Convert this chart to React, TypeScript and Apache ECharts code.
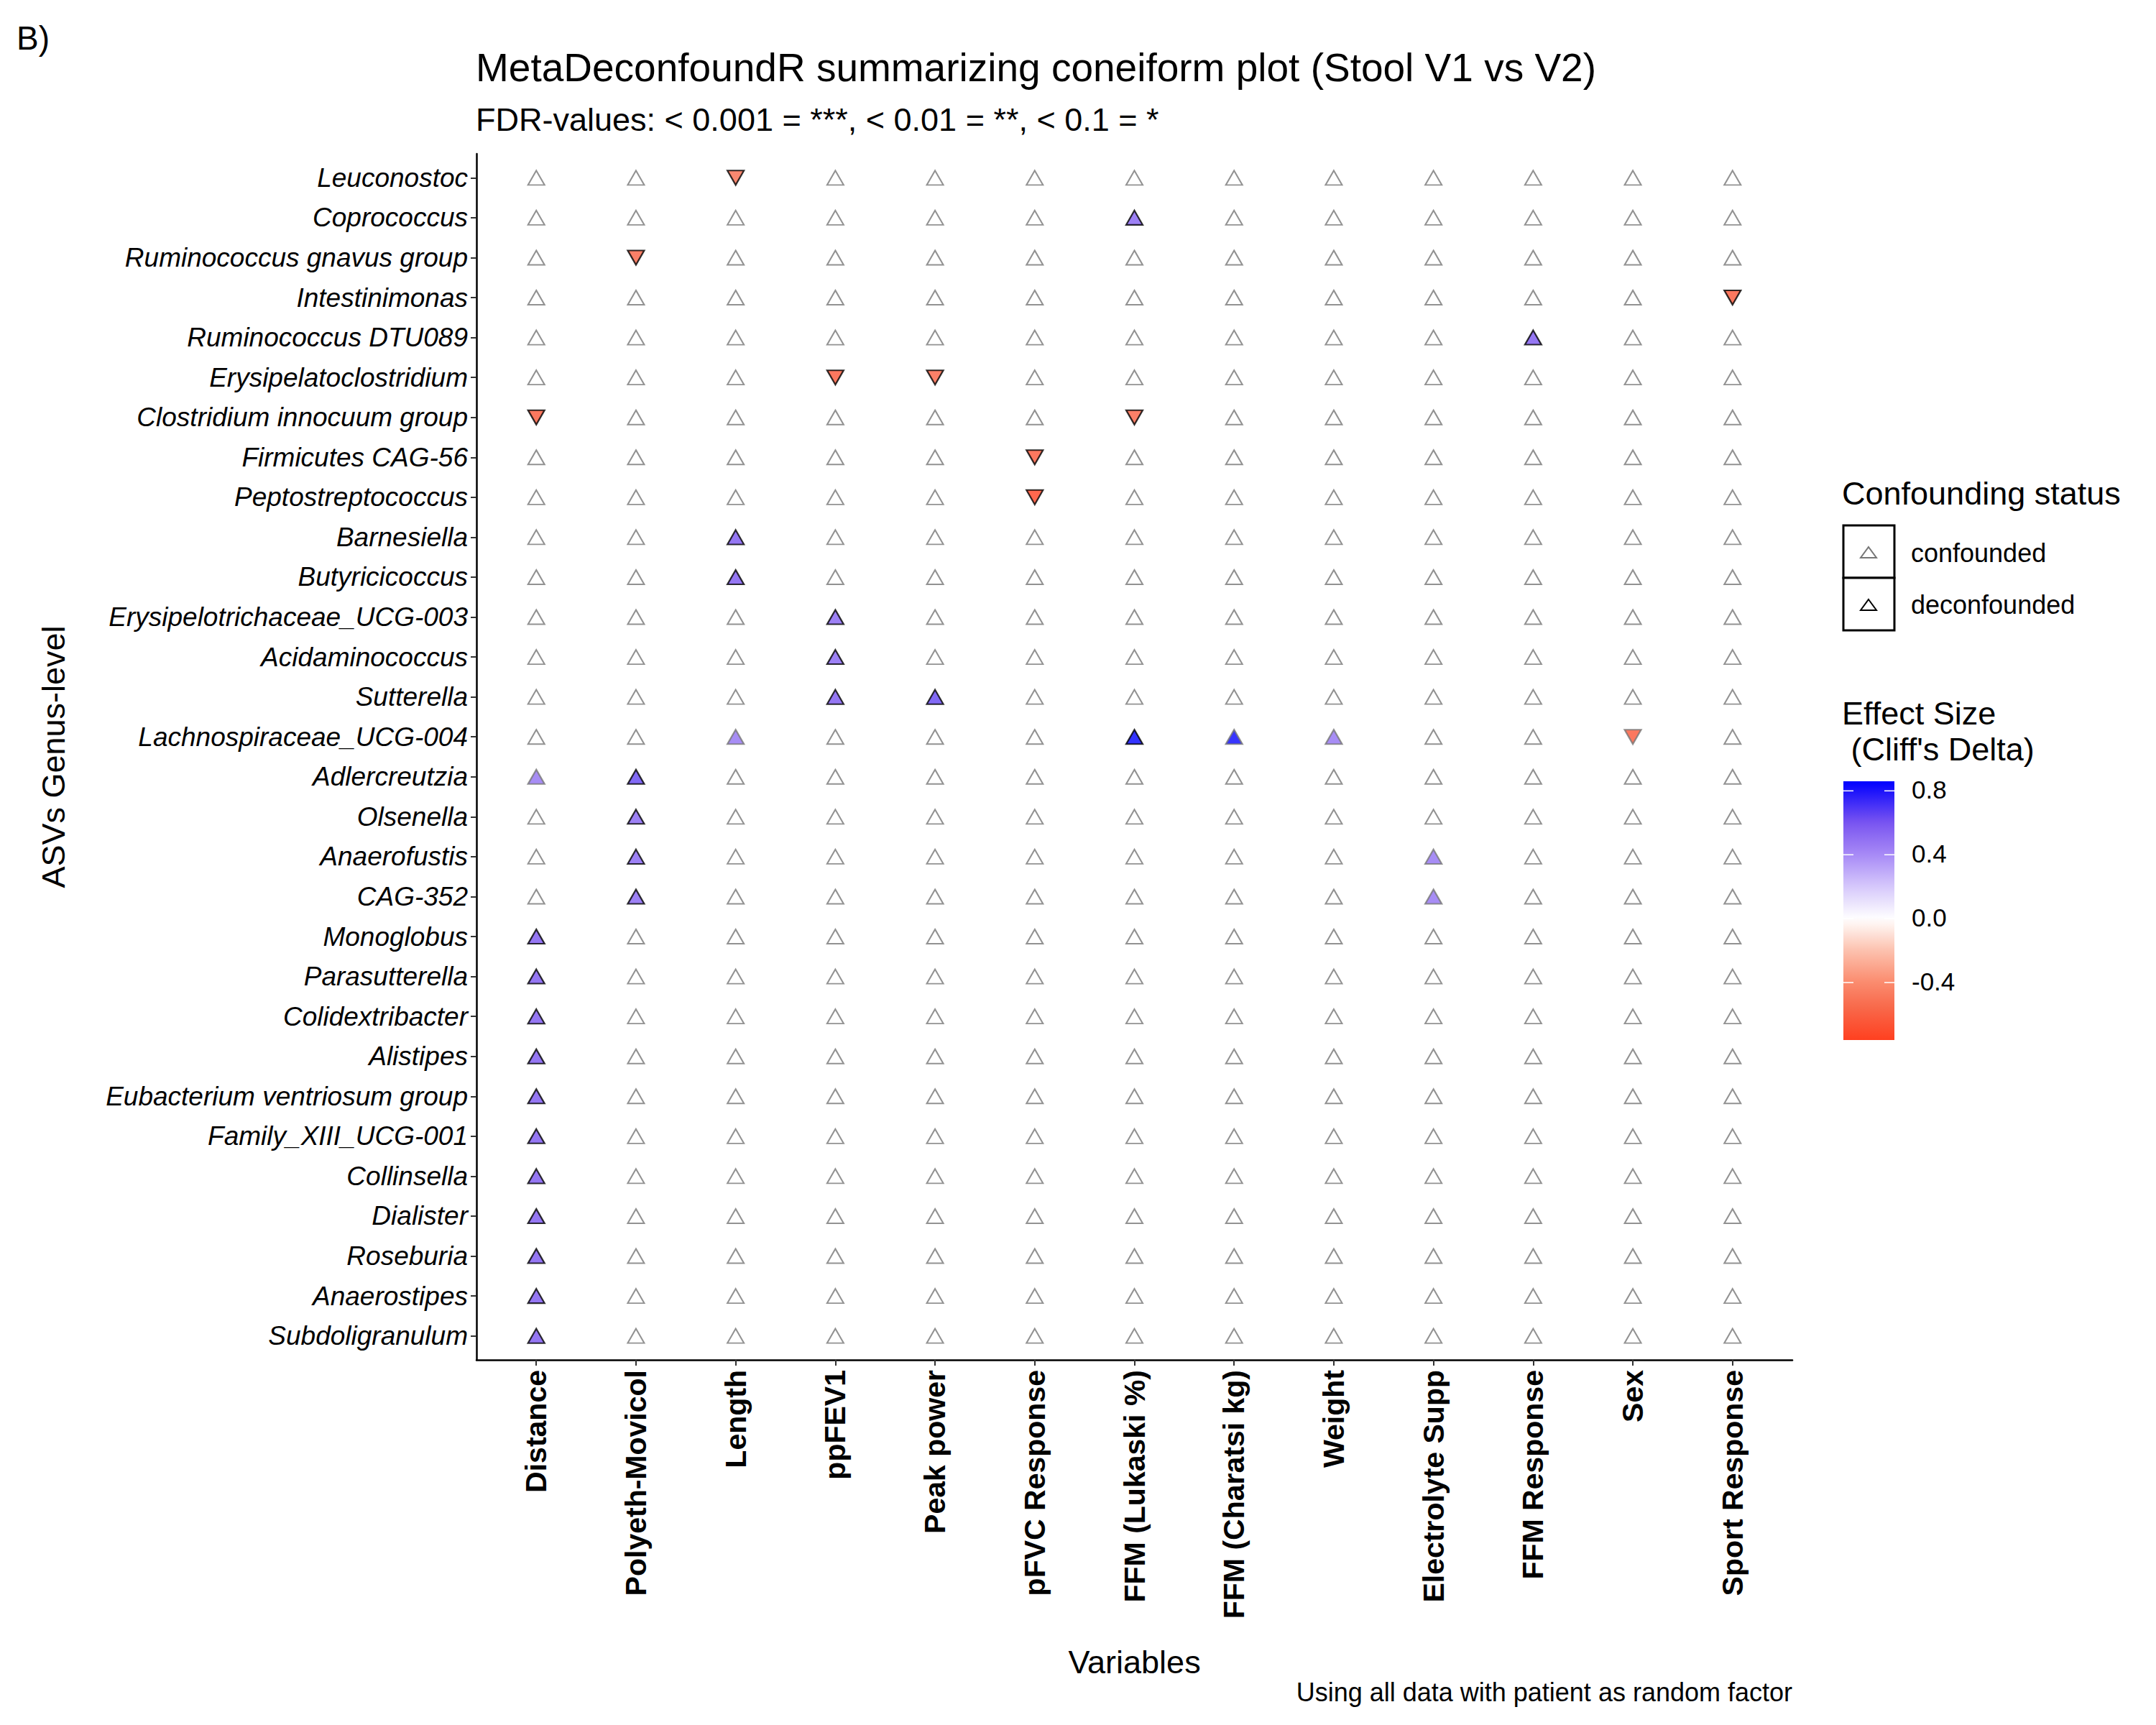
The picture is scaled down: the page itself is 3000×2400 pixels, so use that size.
import React, { useEffect, useRef } from "react";
import * as echarts from "echarts";

const genera = [
  "Leuconostoc", "Coprococcus", "Ruminococcus gnavus group", "Intestinimonas", "Ruminococcus DTU089",
  "Erysipelatoclostridium", "Clostridium innocuum group", "Firmicutes CAG-56", "Peptostreptococcus",
  "Barnesiella", "Butyricicoccus", "Erysipelotrichaceae_UCG-003", "Acidaminococcus", "Sutterella",
  "Lachnospiraceae_UCG-004", "Adlercreutzia", "Olsenella", "Anaerofustis", "CAG-352", "Monoglobus",
  "Parasutterella", "Colidextribacter", "Alistipes", "Eubacterium ventriosum group", "Family_XIII_UCG-001",
  "Collinsella", "Dialister", "Roseburia", "Anaerostipes", "Subdoligranulum",
];
const variables = [
  "Distance", "Polyeth-Movicol", "Length", "ppFEV1", "Peak power", "pFVC Response", "FFM (Lukaski %)",
  "FFM (Charatsi kg)", "Weight", "Electrolyte Supp", "FFM Response", "Sex", "Sport Response",
];
// significant cells: row index, column index, Cliff's delta, deconfounded (1) / confounded (0)
const sigRow = [0, 1, 2, 3, 4, 5, 5, 6, 6, 7, 8, 9, 10, 11, 12, 13, 13, 14, 14, 14, 14, 14, 15, 15, 16, 17, 17, 18, 18, 19, 20, 21, 22, 23, 24, 25, 26, 27, 28, 29];
const sigCol = [2, 6, 1, 12, 10, 3, 4, 0, 6, 5, 5, 2, 2, 3, 3, 3, 4, 2, 6, 7, 8, 11, 0, 1, 1, 1, 9, 1, 9, 0, 0, 0, 0, 0, 0, 0, 0, 0, 0, 0];
const sigValue = [-0.55, 0.55, -0.6, -0.65, 0.6, -0.65, -0.6, -0.65, -0.6, -0.65, -0.75, 0.6, 0.6, 0.55, 0.55, 0.6, 0.65, 0.5, 0.86, 0.85, 0.5, -0.65, 0.5, 0.65, 0.55, 0.55, 0.5, 0.55, 0.5, 0.6, 0.6, 0.6, 0.6, 0.6, 0.6, 0.6, 0.6, 0.6, 0.6, 0.6];
const sigDeconf = [1, 1, 1, 1, 1, 1, 1, 1, 1, 1, 1, 1, 1, 1, 1, 1, 1, 0, 1, 0, 0, 0, 0, 1, 1, 1, 0, 1, 0, 1, 1, 1, 1, 1, 1, 1, 1, 1, 1, 1];
const legendTicks = [0.8, 0.4, 0.0, -0.4];
const scaleMin = -0.76;
const scaleMax = 0.86;

const stops: [number, number[]][] = [
  [-0.76, [255, 64, 32]], [-0.55, [248, 106, 76]], [-0.4, [251, 139, 110]], [-0.2, [252, 193, 174]],
  [0, [255, 255, 255]], [0.2, [214, 200, 251]], [0.4, [167, 138, 246]], [0.6, [122, 85, 240]], [0.86, [0, 0, 255]],
];
function colorOf(v: number): string {
  if (v <= stops[0][0]) return `rgb(${stops[0][1].join(",")})`;
  for (let i = 1; i < stops.length; i++) {
    if (v <= stops[i][0]) {
      const [a, ca] = stops[i - 1];
      const [b, cb] = stops[i];
      const t = (v - a) / (b - a);
      const c = ca.map((x, k) => Math.round(x + (cb[k] - x) * t));
      return `rgb(${c.join(",")})`;
    }
  }
  return `rgb(${stops[stops.length - 1][1].join(",")})`;
}

export default function App() {
  const ref = useRef<HTMLDivElement>(null);
  useEffect(() => {
    document.body.style.margin = "0";
    const chart = echarts.init(ref.current!, null, { renderer: "svg" });
    const font = "Liberation Sans";
    const data: any[] = [];
    for (let r = 0; r < genera.length; r++) {
      for (let c = 0; c < variables.length; c++) {
        let idx = -1;
        for (let k = 0; k < sigRow.length; k++) if (sigRow[k] === r && sigCol[k] === c) idx = k;
        if (idx < 0) {
          data.push({ value: [c, r], itemStyle: { color: "#ffffff", borderColor: "#777777", borderWidth: 2 } });
        } else {
          const v = sigValue[idx];
          data.push({
            value: [c, r],
            symbolRotate: v < 0 ? 180 : 0,
            itemStyle: { color: colorOf(v), borderColor: sigDeconf[idx] ? "#000000" : "#777777", borderWidth: 2.2 },
          });
        }
      }
    }
    const gx = 2565, gw = 71;
    const barTop = 1087, barBot = 1447;
    const yOf = (v: number) => barTop + ((scaleMax - v) / (scaleMax - scaleMin)) * (barBot - barTop);
    const colorStops: any[] = [];
    for (let i = 0; i <= 40; i++) {
      const v = scaleMax - (i / 40) * (scaleMax - scaleMin);
      colorStops.push({ offset: i / 40, color: colorOf(v) });
    }
    const graphic: any[] = [
      { type: "text", left: 23, top: 30, style: { text: "B)", font: `46px ${font}`, fill: "#000" } },
      { type: "text", left: 662, top: 66, style: { text: "MetaDeconfoundR summarizing coneiform plot (Stool V1 vs V2)", font: `55px ${font}`, fill: "#000" } },
      { type: "text", left: 662, top: 144, style: { text: "FDR-values: < 0.001 = ***, < 0.01 = **, < 0.1 = *", font: `45px ${font}`, fill: "#000" } },
      { type: "text", right: 506, top: 2336, style: { text: "Using all data with patient as random factor", font: `36px ${font}`, fill: "#000" } },
      { type: "text", left: 2563, top: 664, style: { text: "Confounding status", font: `45px ${font}`, fill: "#000" } },
      { type: "rect", shape: { x: gx, y: 731, width: gw, height: 73 }, style: { fill: "#fff", stroke: "#000", lineWidth: 3 } },
      { type: "rect", shape: { x: gx, y: 804, width: gw, height: 73 }, style: { fill: "#fff", stroke: "#000", lineWidth: 3 } },
      { type: "polygon", shape: { points: [[gx + 35, 761], [gx + 46, 776], [gx + 24, 776]] }, style: { fill: "#fff", stroke: "#777", lineWidth: 2 } },
      { type: "polygon", shape: { points: [[gx + 35, 834], [gx + 46, 849], [gx + 24, 849]] }, style: { fill: "#fff", stroke: "#000", lineWidth: 2 } },
      { type: "text", left: 2659, top: 751, style: { text: "confounded", font: `36px ${font}`, fill: "#000" } },
      { type: "text", left: 2659, top: 823, style: { text: "deconfounded", font: `36px ${font}`, fill: "#000" } },
      { type: "text", left: 2563, top: 967, style: { text: "Effect Size\n (Cliff's Delta)", font: `45px ${font}`, lineHeight: 50, fill: "#000" } },
      {
        type: "rect", shape: { x: gx, y: barTop, width: gw, height: barBot - barTop },
        style: { fill: { type: "linear", x: 0, y: 0, x2: 0, y2: 1, colorStops } },
      },
    ];
    legendTicks.forEach((t) => {
      const y = yOf(t);
      graphic.push({ type: "line", shape: { x1: gx, y1: y, x2: gx + 14, y2: y }, style: { stroke: "#fff", lineWidth: 1.5 } });
      graphic.push({ type: "line", shape: { x1: gx + gw - 14, y1: y, x2: gx + gw, y2: y }, style: { stroke: "#fff", lineWidth: 1.5 } });
      graphic.push({ type: "text", left: 2660, top: y - 19, style: { text: t.toFixed(1), font: `35px ${font}`, fill: "#000" } });
    });
    chart.setOption({
      animation: false,
      backgroundColor: "#ffffff",
      textStyle: { fontFamily: font },
      grid: { left: 663, top: 214, width: 1831, height: 1678 },
      xAxis: {
        type: "value", min: -0.6, max: 12.6,
        name: "Variables", nameLocation: "middle", nameGap: 398,
        nameTextStyle: { fontSize: 45, color: "#000" },
        axisLine: { show: true, onZero: false, lineStyle: { color: "#000", width: 2.5 } },
        axisTick: { show: true, length: 8, lineStyle: { color: "#333", width: 2 }, customValues: variables.map((_, i) => i) },
        axisLabel: {
          rotate: 90, fontSize: 41, fontWeight: "bold", color: "#000", margin: 14,
          customValues: variables.map((_, i) => i), formatter: (v: number) => variables[Math.round(v)] ?? "",
        },
        splitLine: { show: false },
      },
      yAxis: {
        type: "value", min: -0.6, max: 29.6, inverse: true,
        name: "ASVs Genus-level", nameLocation: "middle", nameGap: 566,
        nameTextStyle: { fontSize: 45, color: "#000" },
        axisLine: { show: true, onZero: false, lineStyle: { color: "#000", width: 2.5 } },
        axisTick: { show: true, length: 8, lineStyle: { color: "#333", width: 2 }, customValues: genera.map((_, i) => i) },
        axisLabel: {
          fontSize: 37, fontStyle: "italic", color: "#000", margin: 12,
          customValues: genera.map((_, i) => i), formatter: (v: number) => genera[Math.round(v)] ?? "",
        },
        splitLine: { show: false },
      },
      series: [{ type: "scatter", symbol: "triangle", symbolSize: [23, 20], data }],
      graphic,
    });
    return () => chart.dispose();
  }, []);
  return <div ref={ref} style={{ width: 3000, height: 2400 }} />;
}
